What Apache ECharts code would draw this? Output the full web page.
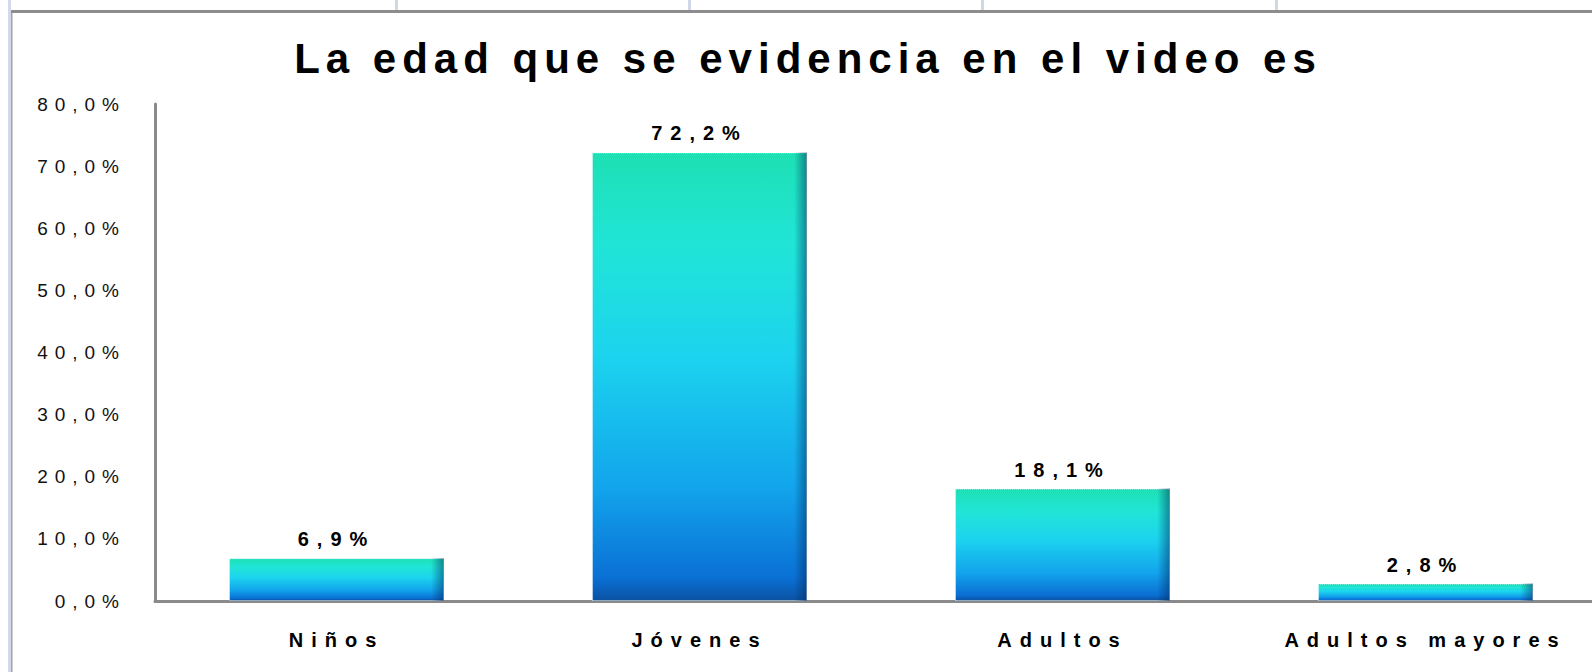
<!DOCTYPE html>
<html>
<head>
<meta charset="utf-8">
<script src="https://cdn.jsdelivr.net/npm/echarts@6/dist/echarts.min.js"></script>
<style>
  html, body { margin: 0; padding: 0; background: #fff; overflow: hidden; }
  #chart { width: 1612px; height: 672px; }
  #chart text[style*="42px"] { letter-spacing: 6px; }
  #chart text[style*="20px"] { letter-spacing: 8px; }
  #chart text[style*="19px"] { letter-spacing: 7px; }
</style>
</head>
<body>
<div id="chart"></div>
<script>
const title = 'La edad que se evidencia en el video es';
const categories = ['Niños', 'Jóvenes', 'Adultos', 'Adultos mayores'];
const values = [6.9, 72.2, 18.1, 2.8];
const valueLabels = ['6,9%', '72,2%', '18,1%', '2,8%'];
const yTickLabels = ['0,0%', '10,0%', '20,0%', '30,0%', '40,0%', '50,0%', '60,0%', '70,0%', '80,0%'];

const FONT = "'Liberation Sans', Arial, sans-serif";
const chart = echarts.init(document.getElementById('chart'), null, { renderer: 'svg' });

const barGradient = new echarts.graphic.LinearGradient(0, 0, 0, 1, [
  { offset: 0, color: '#1de0b4' },
  { offset: 0.2, color: '#20e5d6' },
  { offset: 0.45, color: '#1cd4ee' },
  { offset: 0.75, color: '#12a4ec' },
  { offset: 0.95, color: '#0a70d4' },
  { offset: 1, color: '#0a52a2' }
]);
const edgeGradient = new echarts.graphic.LinearGradient(0, 0, 1, 0, [
  { offset: 0, color: 'rgba(0,40,90,0)' },
  { offset: 0.94, color: 'rgba(0,40,90,0)' },
  { offset: 1, color: 'rgba(0,40,90,0.5)' }
]);

chart.setOption({
  animation: false,
  backgroundColor: '#ffffff',
  title: {
    text: title,
    left: 803,
    top: 32,
    textAlign: 'center',
    textStyle: { fontFamily: FONT, fontSize: 42, fontWeight: 'bold', color: '#000' }
  },
  grid: { left: 155, right: 5, top: 104, bottom: 71, containLabel: false },
  xAxis: {
    type: 'category',
    data: categories,
    axisLine: { show: true, lineStyle: { color: '#8a8a8a', width: 3 } },
    axisTick: { show: false },
    axisLabel: {
      interval: 0, margin: 29,
      fontFamily: FONT, fontSize: 20, fontWeight: 'bold', color: '#000'
    },
    splitLine: { show: false }
  },
  yAxis: {
    type: 'value',
    min: 0, max: 80, interval: 10,
    axisLine: { show: true, lineStyle: { color: '#8a8a8a', width: 3 } },
    axisTick: { show: false },
    splitLine: { show: false },
    axisLabel: {
      margin: 29,
      fontFamily: FONT, fontSize: 19, color: '#111',
      formatter: (v, i) => yTickLabels[i]
    }
  },
  series: [{
    type: 'bar',
    data: values,
    barWidth: 215,
    itemStyle: {
      color: barGradient,
      borderColor: 'rgba(235,250,255,0.85)',
      borderWidth: 1,
      borderType: 'dotted'
    },
    label: {
      show: true,
      position: 'top',
      distance: 9,
      fontFamily: FONT, fontSize: 20, fontWeight: 'bold', color: '#000',
      formatter: p => valueLabels[p.dataIndex]
    }
  }, {
    type: 'bar',
    data: values,
    barWidth: 215,
    barGap: '-100%',
    silent: true,
    itemStyle: { color: edgeGradient },
    label: { show: false }
  }],
  graphic: [
    { type: 'rect', shape: { x: 8, y: 0, width: 3, height: 672 }, style: { fill: '#d3d9e8' }, silent: true },
    { type: 'rect', shape: { x: 11, y: 13, width: 1.5, height: 659 }, style: { fill: '#a2a2a2' }, silent: true },
    { type: 'rect', shape: { x: 11, y: 10, width: 1601, height: 3 }, style: { fill: '#8c8c8c' }, silent: true },
    { type: 'rect', shape: { x: 395, y: 0, width: 3, height: 10 }, style: { fill: '#d0d8e8' }, silent: true },
    { type: 'rect', shape: { x: 688, y: 0, width: 3, height: 10 }, style: { fill: '#d0d8e8' }, silent: true },
    { type: 'rect', shape: { x: 981, y: 0, width: 3, height: 10 }, style: { fill: '#d0d8e8' }, silent: true },
    { type: 'rect', shape: { x: 1275, y: 0, width: 3, height: 10 }, style: { fill: '#d0d8e8' }, silent: true }
  ]
});
</script>
</body>
</html>
